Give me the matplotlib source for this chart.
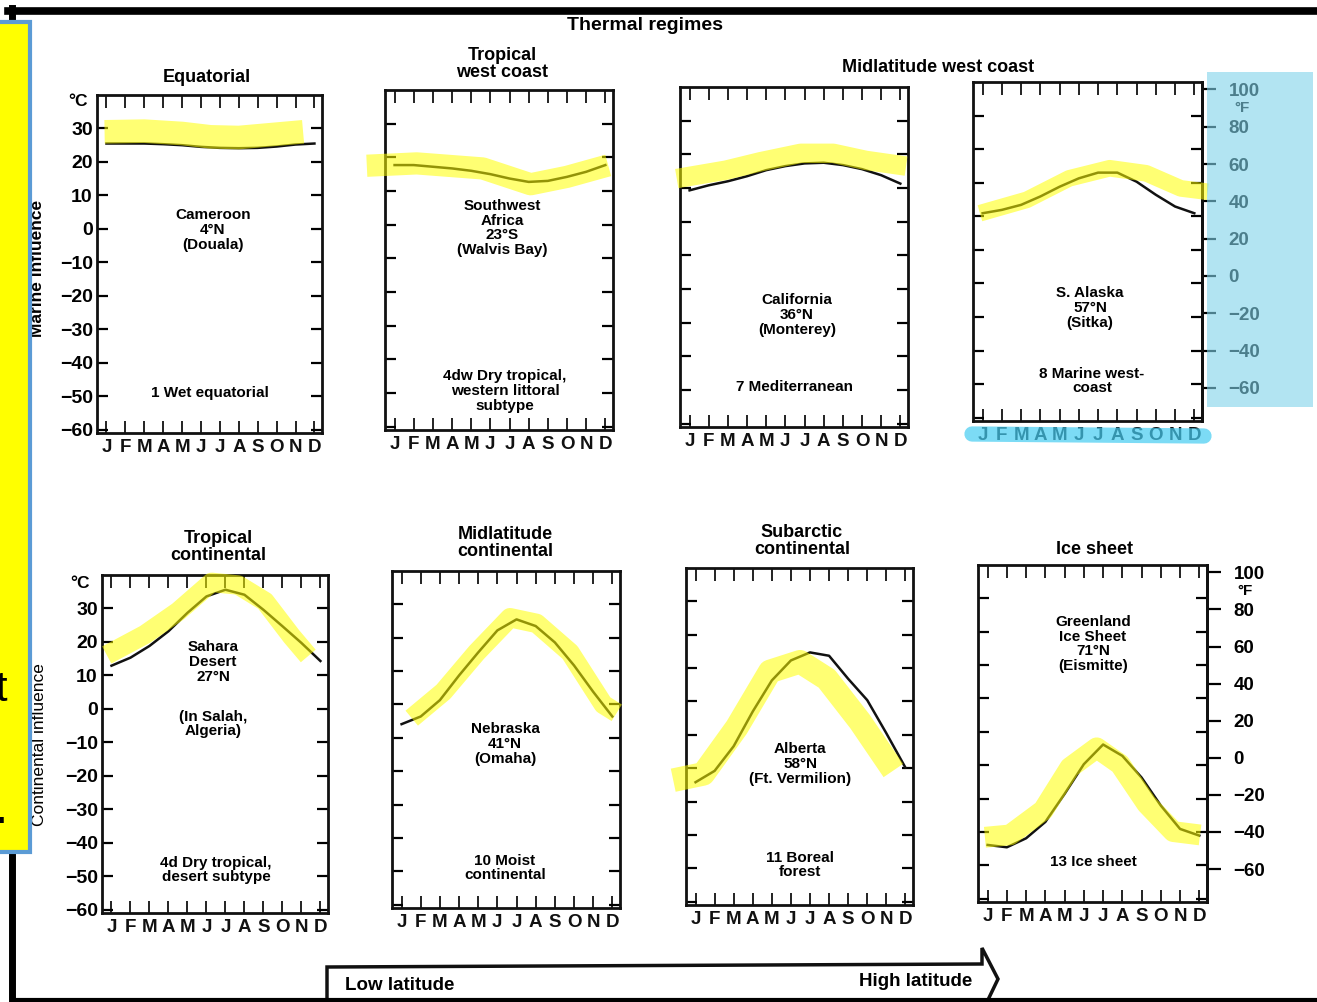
"""
Thermal regimes: annual march of monthly mean temperature at eight stations,
arranged from low to high latitude, marine (top) and continental (bottom).
"""

import numpy as np
import matplotlib.pyplot as plt
from matplotlib.lines import Line2D
from matplotlib.patches import Rectangle, Polygon

W, H = 1317, 1002

plt.rcParams["font.family"] = ["Liberation Sans", "DejaVu Sans"]
plt.rcParams["font.weight"] = "bold"

MONTHS = list("JFMAMJJASOND")
months = np.arange(12)

# ---------------------------------------------------------------------------
# Monthly mean temperatures (deg C)
# ---------------------------------------------------------------------------
douala = [25.5, 25.5, 25.5, 25.3, 25.0, 24.5, 24.2, 24.1, 24.2, 24.6, 25.2, 25.5]
walvis_bay = [17.7, 17.7, 17.2, 16.7, 16.0, 15.0, 13.7, 12.7, 13.0, 14.2, 15.7, 17.7]
monterey = [9.3, 10.8, 12.0, 13.5, 15.3, 16.5, 17.3, 17.5, 16.8, 15.6, 13.8, 11.3]
sitka = [0.9, 1.9, 3.4, 5.9, 8.8, 11.3, 13.0, 13.0, 10.3, 6.4, 2.9, 0.9]
in_salah = [12.9, 15.3, 18.8, 23.2, 28.7, 33.6, 35.6, 34.1, 29.6, 24.7, 19.7, 14.3]
omaha = [-5.9, -3.6, 1.3, 8.7, 15.6, 22.2, 25.5, 23.5, 18.6, 11.7, 3.8, -3.6]
ft_vermilion = [-24.2, -20.8, -13.4, -3.0, 6.3, 12.3, 14.7, 13.7, 6.8, 0.4, -9.5, -19.8]
eismitte = [-43.9, -44.6, -41.9, -37.0, -28.6, -19.7, -13.8, -17.2, -23.7, -32.1, -39.1, -41.1]

# hand-drawn marker strokes over the curves (month index, deg C)
mark_x1 = [-0.1, 2.0, 4.0, 5.5, 7.0, 9.0, 10.4]
mark_y1 = [29.0, 29.2, 28.5, 27.5, 27.3, 28.3, 29.0]
mark_x2 = [-1.45, 1.15, 4.6, 7.1, 9.0, 11.15]
mark_y2 = [17.5, 18.2, 16.7, 12.0, 14.2, 17.6]
mark_x3 = [-0.67, 1.9, 3.7, 5.8, 7.5, 9.2, 11.3]
mark_y3 = [12.8, 15.3, 17.8, 20.3, 20.3, 18.2, 16.5]
mark_x4 = [-0.14, 2.3, 4.5, 6.6, 8.5, 10.3, 11.7]
mark_y4 = [0.9, 4.9, 11.3, 14.3, 12.8, 8.3, 7.3]
mark_x5 = [-0.25, 1.76, 3.51, 5.27, 6.67, 8.08, 9.48, 10.36]
mark_y5 = [16.1, 22.2, 29.1, 37.8, 37.0, 32.1, 21.7, 15.8]
mark_x6 = [0.53, 2.18, 3.92, 5.66, 7.05, 8.79, 10.53, 11.23]
mark_y6 = [-4.1, 3.8, 15.6, 26.0, 24.3, 15.6, 0.0, -2.5]
mark_x7 = [-1.17, 0.41, 2.16, 3.9, 5.48, 6.88, 8.62, 10.37]
mark_y7 = [-23.6, -21.7, -7.8, 9.0, 11.9, 6.8, -6.0, -20.7]
mark_x8 = [-0.14, 1.16, 2.89, 4.28, 5.67, 6.88, 8.27, 9.65, 11.04]
mark_y8 = [-41.6, -40.9, -33.5, -20.7, -14.8, -19.7, -31.6, -39.9, -40.9]

series = [douala, walvis_bay, monterey, sitka, in_salah, omaha, ft_vermilion, eismitte]
marks = [(mark_x1, mark_y1), (mark_x2, mark_y2), (mark_x3, mark_y3), (mark_x4, mark_y4),
         (mark_x5, mark_y5), (mark_x6, mark_y6), (mark_x7, mark_y7), (mark_x8, mark_y8)]
mark_widths = [17, 16, 14, 12, 14, 14, 17, 15]

celsius_ticks = list(range(-60, 31, 10))
fahrenheit_ticks = list(range(100, -61, -20))

titles = ["Equatorial", "Tropical\nwest coast", "Tropical\ncontinental",
          "Midlatitude\ncontinental", "Subarctic\ncontinental", "Ice sheet"]
stations = ["Cameroon\n4°N\n(Douala)", "Southwest\nAfrica\n23°S\n(Walvis Bay)",
            "California\n36°N\n(Monterey)", "S. Alaska\n57°N\n(Sitka)",
            "Sahara\nDesert\n27°N", "Nebraska\n41°N\n(Omaha)",
            "Alberta\n58°N\n(Ft. Vermilion)", "Greenland\nIce Sheet\n71°N\n(Eismitte)"]
regimes = ["1 Wet equatorial", "4dw Dry tropical,\nwestern littoral\nsubtype",
           "7 Mediterranean", "8 Marine west-\ncoast",
           "4d Dry tropical,\ndesert subtype", "10 Moist\ncontinental",
           "11 Boreal\nforest", "13 Ice sheet"]

# ---------------------------------------------------------------------------
# Layout (pixel boxes: left, top, right, bottom)
# ---------------------------------------------------------------------------
boxes = [(97, 95, 322, 433), (385, 90, 613, 430), (680, 87, 908, 427), (973, 82, 1202, 421),
         (102, 575, 328, 913), (392, 571, 620, 908), (686, 568, 913, 905), (978, 565, 1207, 902)]
title_pos = [(207, 77), (502, 64), (218, 547), (505, 543), (802, 541), (1094, 549)]
station_pos = [(213, 230), (502, 228), (797, 315), (1090, 308),
               (213, 662), (505, 744), (800, 764), (1093, 644)]
regime_pos = [(210, 393), (505, 391), (795, 387), (1092, 381),
              (216, 870), (505, 868), (800, 865), (1093, 862)]

TEXT_SIZE = 11


def fx(x):
    return x / W


def fy(y):
    return 1 - y / H


def minus(v):
    return f"{v}".replace("-", "\u2212")


fig = plt.figure(figsize=(W / 100, H / 100), dpi=100)
fig.patch.set_facecolor("white")

for i, (l, t, r, b) in enumerate(boxes):
    ax = fig.add_axes([fx(l), fy(b), (r - l) / W, (b - t) / H])
    ax.set_xlim(-0.5, 11.4)
    ax.set_ylim(-61, 40)
    for sp in ax.spines.values():
        sp.set_linewidth(2.0)
        sp.set_color("#111111")

    ax.set_xticks(months)
    ax.set_xticklabels(MONTHS, fontsize=13.5, fontweight="bold")
    ax.tick_params(axis="x", direction="in", length=9, width=1.3,
                   top=True, bottom=True, pad=4, colors="#111111")

    ax.set_yticks(celsius_ticks)
    ax.set_yticklabels([minus(v) for v in celsius_ticks], fontsize=14, fontweight="bold")
    ax.tick_params(axis="y", direction="in", length=8, width=1.6,
                   left=True, right=True, labelleft=(i in (0, 4)), pad=3)

    ax.plot(months, series[i], color="#111111", lw=1.8, zorder=3)
    mx, my = marks[i]
    ax.plot(mx, my, color="#ffff00", alpha=0.55, lw=mark_widths[i],
            solid_capstyle="butt", solid_joinstyle="round", clip_on=False, zorder=4)

    if i in (3, 7):
        sec = ax.secondary_yaxis("right", functions=(lambda c: c * 9 / 5 + 32,
                                                      lambda f: (f - 32) * 5 / 9))
        sec.set_yticks(fahrenheit_ticks)
        sec.set_yticklabels([minus(v) for v in fahrenheit_ticks], fontsize=13.5,
                            fontweight="bold")
        sec.tick_params(direction="out", length=10, width=1.6, pad=9)
        sec.spines["right"].set_linewidth(2.0)

    fig.text(fx(station_pos[i][0]), fy(station_pos[i][1]), stations[i],
             ha="center", va="center", fontsize=TEXT_SIZE, linespacing=1.05)
    fig.text(fx(regime_pos[i][0]), fy(regime_pos[i][1]), regimes[i],
             ha="center", va="center", fontsize=TEXT_SIZE, linespacing=1.05)

fig.text(fx(213), fy(724), "(In Salah,\nAlgeria)", ha="center", va="center",
         fontsize=TEXT_SIZE, linespacing=1.05)

for (x, y), s in zip(title_pos, titles):
    fig.text(fx(x), fy(y), s, ha="center", va="center", fontsize=13, linespacing=1.0)
fig.text(fx(938), fy(68), "Midlatitude west coast", ha="center", va="center", fontsize=13)
fig.text(fx(645), fy(26), "Thermal regimes", ha="center", va="center", fontsize=14)

# unit labels
fig.text(fx(78), fy(102), "°C", ha="center", va="center", fontsize=12.5)
fig.text(fx(80), fy(584), "°C", ha="center", va="center", fontsize=12.5)
fig.text(fx(1242), fy(108), "°F", ha="center", va="center", fontsize=11)
fig.text(fx(1245), fy(591), "°F", ha="center", va="center", fontsize=11)

# row labels, partly hidden under the side note box
fig.text(fx(38), fy(268), "Marine influence", rotation=90, ha="center", va="center",
         fontsize=12.5, zorder=1)
fig.text(fx(40), fy(745), "Continental influence", rotation=90, ha="center",
         va="center", fontsize=12.5, fontweight="normal", zorder=1)

# latitude arrow along the bottom
arrow = Polygon([(fx(327), fy(1004)), (fx(327), fy(967)), (fx(982), fy(964)),
                 (fx(982), fy(948)), (fx(998), fy(979)), (fx(986), fy(1004))],
                closed=False, fill=False, edgecolor="#111111", lw=2.5,
                transform=fig.transFigure)
fig.patches.append(arrow)
fig.text(fx(345), fy(986), "Low latitude", ha="left", va="center", fontsize=13.5)
fig.text(fx(972), fy(982), "High latitude", ha="right", va="center", fontsize=13.5)

# page frame
fig.add_artist(Line2D([fx(8), fx(1317)], [fy(11), fy(11)], color="black", lw=5.5))
fig.add_artist(Line2D([fx(12), fx(12)], [fy(8), fy(1002)], color="black", lw=5))
fig.add_artist(Line2D([fx(12), fx(1317)], [fy(1000), fy(1000)], color="black", lw=3))

# side note box
fig.add_artist(Rectangle((fx(-6), fy(852)), (30 + 6) / W, (852 - 22) / H,
                         facecolor="#ffff00", edgecolor="#5b9bd5", lw=3,
                         transform=fig.transFigure, zorder=5))
fig.text(fx(7), fy(690), "t", ha="right", va="center", fontsize=30,
         fontweight="normal", zorder=6)
fig.text(fx(6), fy(812), ".", ha="right", va="center", fontsize=30, zorder=6)

# blue highlights on the Fahrenheit scale and month letters
fig.add_artist(Rectangle((fx(1207), fy(407)), (1313 - 1207) / W, (407 - 72) / H,
                         facecolor="#7fd3ea", alpha=0.6, edgecolor="none",
                         transform=fig.transFigure, zorder=5))
fig.add_artist(Line2D([fx(972), fx(1204)], [fy(434), fy(436)], color="#45cdf2",
                      alpha=0.7, lw=11, solid_capstyle="round", zorder=5))

fig.savefig("out.png", dpi=100)
